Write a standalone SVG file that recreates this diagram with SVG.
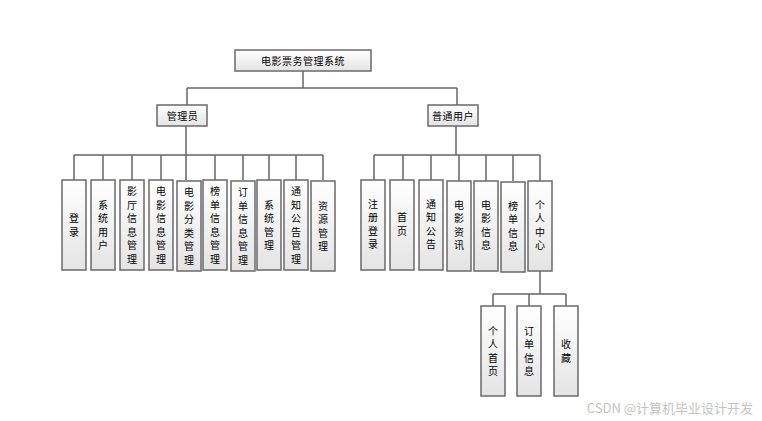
<svg xmlns="http://www.w3.org/2000/svg" width="762" height="421" viewBox="0 0 762 421">
<defs>
<linearGradient id="g" x1="0" y1="0" x2="0" y2="1">
<stop offset="0" stop-color="#ffffff"/>
<stop offset="1" stop-color="#e4e4e4"/>
</linearGradient>
<style>
.b{fill:url(#g);stroke:#6a6a6a;stroke-width:1.5}
.c{fill:none;stroke:#666;stroke-width:1.5}
text{font-family:"Noto Sans CJK SC","Noto Sans",sans-serif;font-size:10px;fill:#000}
.h{text-anchor:middle;letter-spacing:0.5px}
.v{text-anchor:middle}
.wm{font-size:13px;fill:#c4c4c4;text-anchor:end}
</style>
</defs>
<rect width="762" height="421" fill="#fff"/>
<g id="connectors" class="c">
<path d="M303 71V88M187 88H457M187 88V105M457 88V105"/>
<path d="M186 126V180M74 155H323M74 155V180M103 155V180M132 155V180M161 155V180M215 155V180M243 155V180M269 155V180M296 155V180M323 155V180"/>
<path d="M456 126V155M374 155H540M374 155V181M403 155V181M431 155V181M459 155V181M486 155V181M513 155V181M540 155V181"/>
<path d="M540 271V294M493 294H566M493 294V306M529 294V306M566 294V306"/>
</g>
<g id="root"><rect class="b" x="235" y="50" width="136" height="21"/><text class="h" x="303" y="64.5">电影票务管理系统</text></g>
<g id="admin"><rect class="b" x="157" y="105" width="50" height="21"/><text class="h" x="182.5" y="119.5">管理员</text></g>
<g id="user"><rect class="b" x="428" y="105" width="50" height="21"/><text class="h" x="453" y="119.5">普通用户</text></g>

<g id="a1"><rect class="b" x="62" y="180" width="24" height="90"/><text class="v" x="74" y="222"><tspan x="74">登</tspan><tspan x="74" dy="13.5">录</tspan></text></g>
<g id="a2"><rect class="b" x="91" y="180" width="24" height="90"/><text class="v" x="103" y="208.5"><tspan x="103">系</tspan><tspan x="103" dy="13.5">统</tspan><tspan x="103" dy="13.5">用</tspan><tspan x="103" dy="13.5">户</tspan></text></g>
<g id="a3"><rect class="b" x="120" y="180" width="24" height="90"/><text class="v" x="132" y="195"><tspan x="132">影</tspan><tspan x="132" dy="13.5">厅</tspan><tspan x="132" dy="13.5">信</tspan><tspan x="132" dy="13.5">息</tspan><tspan x="132" dy="13.5">管</tspan><tspan x="132" dy="13.5">理</tspan></text></g>
<g id="a4"><rect class="b" x="149" y="180" width="24" height="90"/><text class="v" x="161" y="195"><tspan x="161">电</tspan><tspan x="161" dy="13.5">影</tspan><tspan x="161" dy="13.5">信</tspan><tspan x="161" dy="13.5">息</tspan><tspan x="161" dy="13.5">管</tspan><tspan x="161" dy="13.5">理</tspan></text></g>
<g id="a5"><rect class="b" x="177" y="181" width="24" height="90"/><text class="v" x="189" y="196"><tspan x="189">电</tspan><tspan x="189" dy="13.5">影</tspan><tspan x="189" dy="13.5">分</tspan><tspan x="189" dy="13.5">类</tspan><tspan x="189" dy="13.5">管</tspan><tspan x="189" dy="13.5">理</tspan></text></g>
<g id="a6"><rect class="b" x="203" y="180" width="24" height="90"/><text class="v" x="215" y="195"><tspan x="215">榜</tspan><tspan x="215" dy="13.5">单</tspan><tspan x="215" dy="13.5">信</tspan><tspan x="215" dy="13.5">息</tspan><tspan x="215" dy="13.5">管</tspan><tspan x="215" dy="13.5">理</tspan></text></g>
<g id="a7"><rect class="b" x="231" y="181" width="24" height="90"/><text class="v" x="243" y="196"><tspan x="243">订</tspan><tspan x="243" dy="13.5">单</tspan><tspan x="243" dy="13.5">信</tspan><tspan x="243" dy="13.5">息</tspan><tspan x="243" dy="13.5">管</tspan><tspan x="243" dy="13.5">理</tspan></text></g>
<g id="a8"><rect class="b" x="257" y="180" width="24" height="90"/><text class="v" x="269" y="208.5"><tspan x="269">系</tspan><tspan x="269" dy="13.5">统</tspan><tspan x="269" dy="13.5">管</tspan><tspan x="269" dy="13.5">理</tspan></text></g>
<g id="a9"><rect class="b" x="284" y="180" width="24" height="90"/><text class="v" x="296" y="195"><tspan x="296">通</tspan><tspan x="296" dy="13.5">知</tspan><tspan x="296" dy="13.5">公</tspan><tspan x="296" dy="13.5">告</tspan><tspan x="296" dy="13.5">管</tspan><tspan x="296" dy="13.5">理</tspan></text></g>
<g id="a10"><rect class="b" x="311" y="181" width="24" height="90"/><text class="v" x="323" y="209.5"><tspan x="323">资</tspan><tspan x="323" dy="13.5">源</tspan><tspan x="323" dy="13.5">管</tspan><tspan x="323" dy="13.5">理</tspan></text></g>

<g id="u1"><rect class="b" x="361" y="180" width="24" height="90"/><text class="v" x="373" y="207.5"><tspan x="373">注</tspan><tspan x="373" dy="13.5">册</tspan><tspan x="373" dy="13.5">登</tspan><tspan x="373" dy="13.5">录</tspan></text></g>
<g id="u2"><rect class="b" x="390" y="180" width="24" height="90"/><text class="v" x="402" y="221"><tspan x="402">首</tspan><tspan x="402" dy="13.5">页</tspan></text></g>
<g id="u3"><rect class="b" x="419" y="180" width="24" height="90"/><text class="v" x="431" y="207.5"><tspan x="431">通</tspan><tspan x="431" dy="13.5">知</tspan><tspan x="431" dy="13.5">公</tspan><tspan x="431" dy="13.5">告</tspan></text></g>
<g id="u4"><rect class="b" x="447" y="181" width="24" height="90"/><text class="v" x="459" y="208.5"><tspan x="459">电</tspan><tspan x="459" dy="13.5">影</tspan><tspan x="459" dy="13.5">资</tspan><tspan x="459" dy="13.5">讯</tspan></text></g>
<g id="u5"><rect class="b" x="474" y="181" width="24" height="90"/><text class="v" x="486" y="208.5"><tspan x="486">电</tspan><tspan x="486" dy="13.5">影</tspan><tspan x="486" dy="13.5">信</tspan><tspan x="486" dy="13.5">息</tspan></text></g>
<g id="u6"><rect class="b" x="501" y="182" width="24" height="90"/><text class="v" x="513" y="209.5"><tspan x="513">榜</tspan><tspan x="513" dy="13.5">单</tspan><tspan x="513" dy="13.5">信</tspan><tspan x="513" dy="13.5">息</tspan></text></g>
<g id="u7"><rect class="b" x="528" y="181" width="24" height="90"/><text class="v" x="540" y="208.5"><tspan x="540">个</tspan><tspan x="540" dy="13.5">人</tspan><tspan x="540" dy="13.5">中</tspan><tspan x="540" dy="13.5">心</tspan></text></g>

<g id="p1"><rect class="b" x="481" y="306" width="24" height="90"/><text class="v" x="493" y="334.5"><tspan x="493">个</tspan><tspan x="493" dy="13.5">人</tspan><tspan x="493" dy="13.5">首</tspan><tspan x="493" dy="13.5">页</tspan></text></g>
<g id="p2"><rect class="b" x="517" y="306" width="24" height="90"/><text class="v" x="529" y="334.5"><tspan x="529">订</tspan><tspan x="529" dy="13.5">单</tspan><tspan x="529" dy="13.5">信</tspan><tspan x="529" dy="13.5">息</tspan></text></g>
<g id="p3"><rect class="b" x="554" y="306" width="24" height="90"/><text class="v" x="566" y="348"><tspan x="566">收</tspan><tspan x="566" dy="13.5">藏</tspan></text></g>

<text class="wm" x="753" y="413">CSDN @计算机毕业设计开发</text>
</svg>
